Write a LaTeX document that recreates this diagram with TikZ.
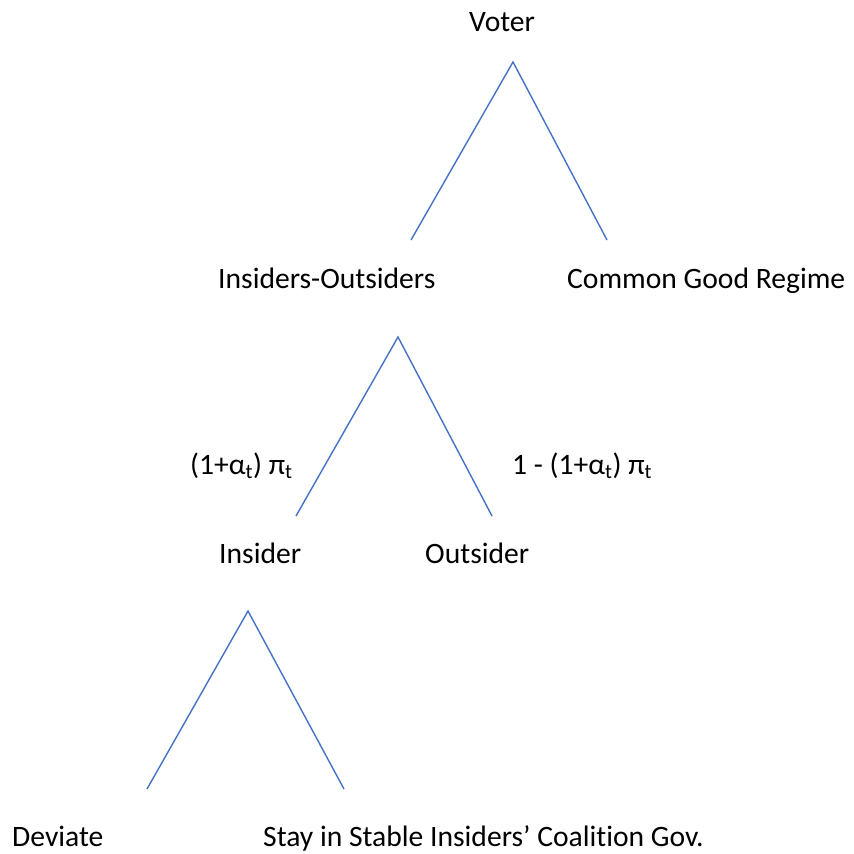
\documentclass[tikz,border=0pt]{standalone}
\usepackage{fontspec}
\setmainfont[Ligatures=NoCommon]{Carlito}
\definecolor{lineblue}{HTML}{4472C4}
\begin{document}
\begin{tikzpicture}[x=1pt,y=-1pt,
  branch/.style={draw=lineblue,line width=1.4pt},
  lbl/.style={anchor=base west,inner sep=0pt,font=\fontsize{29.6}{34}\selectfont}]
\useasboundingbox (0,0) rectangle (854,854);
% labels
\node[lbl] (voter) at (469,31.5) {Voter};
\node[lbl] (io) at (218,288) {Insiders-Outsiders};
\node[lbl] (cg) at (567,288) {Common Good Regime};
\node[lbl] (pl) at (190,474) {(1+α\textsubscript{t}) π\textsubscript{t}};
\node[lbl] (pr) at (512,474) {1 - (1+α\textsubscript{t}) π\textsubscript{t}};
\node[lbl] (ins) at (219,563) {Insider};
\node[lbl] (out) at (425,563) {Outsider};
\node[lbl] (dev) at (12,846) {Deviate};
\node[lbl] (stay) at (263,846) {Stay in Stable Insiders’ Coalition Gov.};
% tree coordinates
\coordinate (a1) at (513,62);
\coordinate (l1) at (411,240);
\coordinate (r1) at (607,240);
\coordinate (a2) at (398,337);
\coordinate (l2) at (296,516);
\coordinate (r2) at (492,516);
\coordinate (a3) at (248,611);
\coordinate (l3) at (147,789);
\coordinate (r3) at (344,789);
\draw[branch] (l1) -- (a1) -- (r1);
\draw[branch] (l2) -- (a2) -- (r2);
\draw[branch] (l3) -- (a3) -- (r3);
\end{tikzpicture}
\end{document}
